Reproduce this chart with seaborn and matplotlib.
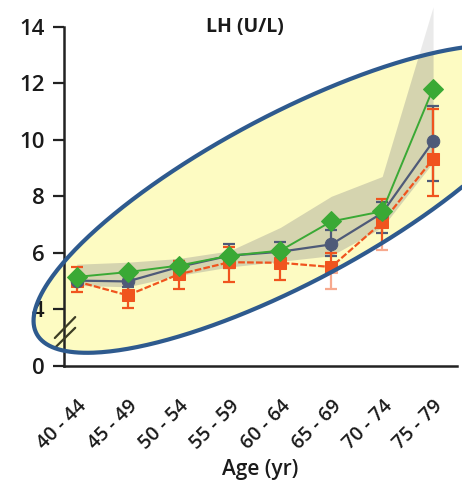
import numpy as np
import pandas as pd
import seaborn as sns
import matplotlib
matplotlib.use("Agg")
import matplotlib.pyplot as plt
from matplotlib.path import Path
from matplotlib.patches import PathPatch

# ---- data -------------------------------------------------------------
ages = ["40 - 44", "45 - 49", "50 - 54", "55 - 59",
        "60 - 64", "65 - 69", "70 - 74", "75 - 79"]

lh_green = [5.15, 5.32, 5.55, 5.90, 6.08, 7.11, 7.47, 11.81]

lh_blue = [5.02, 4.99, 5.50, 5.90, 6.04, 6.30, 7.41, 9.94]
blue_lo = [4.85, 4.80, 5.30, 5.45, 5.70, 5.90, 6.70, 8.55]
blue_hi = [5.20, 5.20, 5.73, 6.30, 6.38, 6.80, 7.80, 11.20]

lh_orange = [4.99, 4.50, 5.24, 5.67, 5.65, 5.50, 7.08, 9.32]
orange_lo = [4.60, 4.05, 4.73, 4.96, 5.05, 4.73, 6.10, 8.00]
orange_hi = [5.49, 4.95, 5.70, 6.20, 6.10, 6.00, 7.90, 11.10]

ref_lo = [4.85, 4.80, 5.20, 5.50, 5.70, 5.90, 6.90, 9.20]
ref_hi = [5.60, 5.67, 5.80, 6.07, 6.90, 8.00, 8.70, 14.70]

y_ticks = [2, 4, 6, 8, 10, 12, 14]
y_tick_labels = ["0", "4", "6", "8", "10", "12", "14"]

# ---- style ------------------------------------------------------------
sns.set_theme(style="white")
plt.rcParams["font.family"] = ["Open Sans", "DejaVu Sans"]

W, H, DPI = 462, 483, 100
fig = plt.figure(figsize=(W / DPI, H / DPI), dpi=DPI)
fig.patch.set_facecolor("white")

def fx(px):
    return px / W

def fy(py):
    return (H - py) / H

ax = fig.add_axes([fx(64), fy(366), fx(457) - fx(64), fy(4) - fy(366)])
ax.set_facecolor("none")

GREEN = "#3aa935"
BLUE = "#4e5a78"
ORANGE = "#f0541e"

x = np.arange(len(ages))
df = pd.DataFrame({
    "idx": np.tile(x, 3),
    "lh": lh_green + lh_blue + lh_orange,
    "grp": ["g"] * 8 + ["b"] * 8 + ["o"] * 8,
})

# shaded reference band
ax.fill_between(x, ref_lo, ref_hi, color="#8c8c8c", alpha=0.35,
                linewidth=0, zorder=1)

# error bars
ax.errorbar(x, lh_blue,
            yerr=[np.array(lh_blue) - np.array(blue_lo),
                  np.array(blue_hi) - np.array(lh_blue)],
            fmt="none", ecolor=BLUE, elinewidth=1.6, capsize=4, capthick=1.6,
            zorder=3)
ax.errorbar(x, lh_orange,
            yerr=[np.array(lh_orange) - np.array(orange_lo),
                  np.array(orange_hi) - np.array(lh_orange)],
            fmt="none", ecolor=ORANGE, elinewidth=1.6, capsize=4, capthick=1.6,
            zorder=3)

sns.lineplot(data=df[df.grp == "o"], x="idx", y="lh", color=ORANGE,
             marker="s", markersize=8, markeredgecolor=ORANGE, linewidth=1.6,
             linestyle=(0, (3, 1)), ax=ax, zorder=3)
sns.lineplot(data=df[df.grp == "b"], x="idx", y="lh", color=BLUE,
             marker="o", markersize=9, markeredgecolor=BLUE, linewidth=1.6,
             ax=ax, zorder=3)
sns.lineplot(data=df[df.grp == "g"], x="idx", y="lh", color=GREEN,
             marker="D", markersize=10, markeredgecolor=GREEN, linewidth=1.4,
             ax=ax, zorder=3)

ax.set_xlim(-0.25, 7.47)
ax.set_ylim(2, 14.8)
ax.set_yticks(y_ticks)
ax.set_yticklabels(y_tick_labels, fontsize=16, fontweight="semibold",
                   color="#1a1a1a")
ax.set_xticks(x)
ax.set_xticklabels(ages, rotation=45, ha="right", va="top",
                   rotation_mode="anchor", fontsize=14,
                   fontweight="semibold", color="#1a1a1a")
ax.tick_params(axis="y", length=8, width=1.6, color="#222222", pad=6,
               left=True)
ax.tick_params(axis="x", length=0, pad=22)
ax.set_xlabel("Age (yr)", fontsize=15, fontweight="semibold",
              color="#1a1a1a", labelpad=4)
ax.set_ylabel("")

for side in ("top", "right"):
    ax.spines[side].set_visible(False)
for side in ("left", "bottom"):
    ax.spines[side].set_color("#222222")
    ax.spines[side].set_linewidth(1.8)
    ax.spines[side].set_zorder(5)
ax.spines["left"].set_bounds(2, 14)

# axis break marks
for y0, y1 in [(2.99, 3.73), (2.64, 3.35)]:
    ax.plot([-0.43, -0.03], [y0, y1], color="#3d3d25", linewidth=1.6,
            clip_on=False, zorder=6)

fig.text(fx(245), fy(27), "LH (U/L)", ha="center", va="center",
         fontsize=14, fontweight="bold", color="#1a1a1a", zorder=8)

# ---- highlight ellipse ------------------------------------------------
ECX, ECY = 290, 199      # centre (pixels, y down)
EA, EB = 287, 84         # semi axes (pixels)
ETH = np.deg2rad(28)     # tilt

t = np.linspace(0, 2 * np.pi, 400)
ex = ECX + EA * np.cos(t) * np.cos(ETH) - EB * np.sin(t) * np.sin(ETH)
ey = ECY - (EA * np.cos(t) * np.sin(ETH) + EB * np.sin(t) * np.cos(ETH))
ell = np.column_stack([fx(ex), fy(ey)])

fill = PathPatch(Path(ell), transform=fig.transFigure, facecolor="#fdfbc2",
                 edgecolor="none", zorder=-1)
fig.patches.append(fill)

# soften what lies outside the highlight
rect = np.array([[fx(64), fy(366)], [fx(462), fy(366)],
                 [fx(462), fy(0)], [fx(64), fy(0)], [fx(64), fy(366)]])
verts = np.vstack([rect, ell[::-1]])
codes = ([Path.MOVETO] + [Path.LINETO] * 3 + [Path.CLOSEPOLY]
         + [Path.MOVETO] + [Path.LINETO] * (len(ell) - 1))
fade = PathPatch(Path(verts, codes), transform=fig.transFigure,
                 facecolor="white", alpha=0.5, edgecolor="none", zorder=4)
ax.add_patch(fade)

edge = PathPatch(Path(ell), transform=fig.transFigure, facecolor="none",
                 edgecolor="#2e5a8e", linewidth=3.0, zorder=5)
fig.patches.append(edge)

fig.savefig("out.png", dpi=DPI)
